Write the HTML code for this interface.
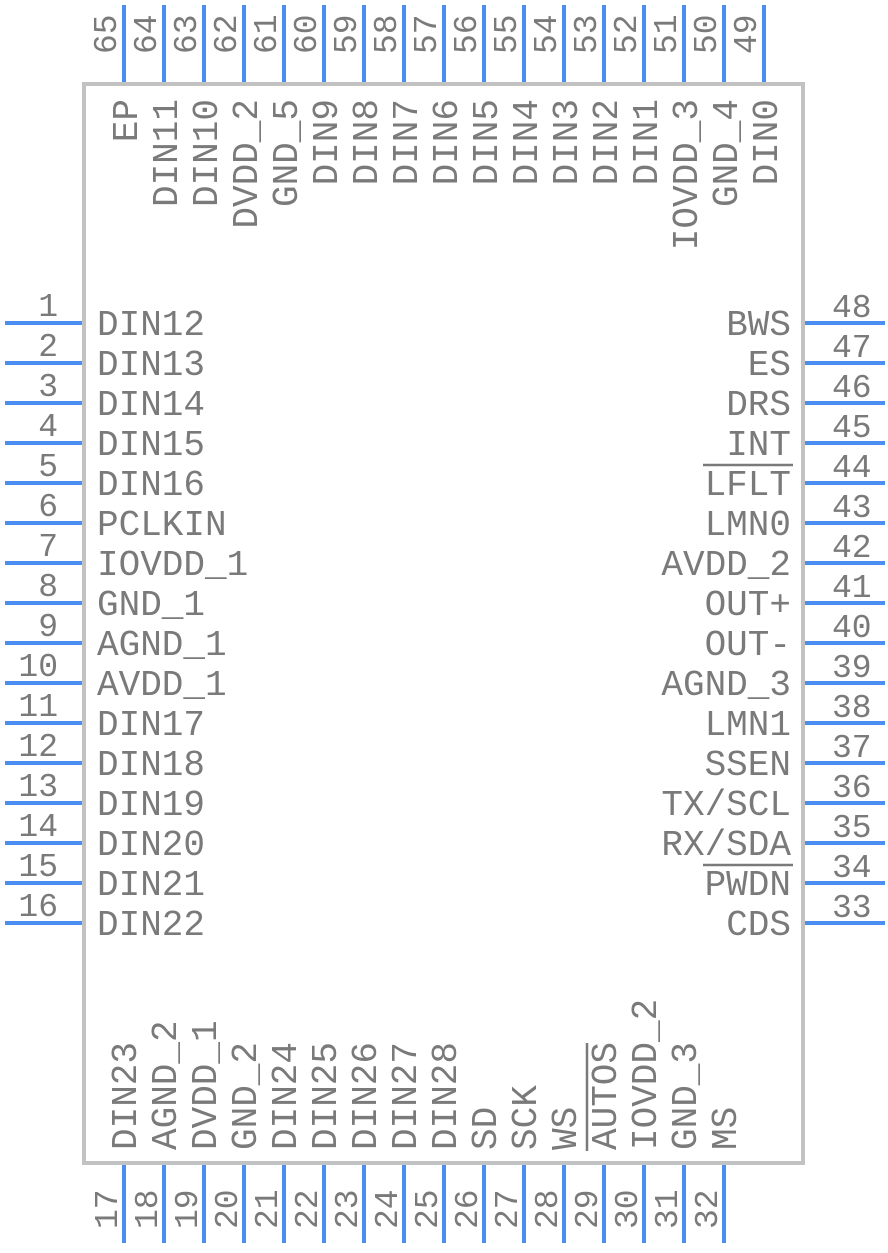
<!DOCTYPE html>
<html><head><meta charset="utf-8"><style>html,body{margin:0;padding:0;background:#fff}</style></head>
<body>
<svg width="888" height="1248" viewBox="0 0 888 1248" xmlns="http://www.w3.org/2000/svg" style="font-family:'Liberation Mono',monospace" fill="#7a7a7a">
<g id="pins" stroke="#4a8ef2" stroke-width="4"></g>
<rect x="84" y="84" width="719" height="1079" fill="none" stroke="#c2c2c2" stroke-width="4"/>
<g id="txt"></g>
</svg>
<script>
var ns="http://www.w3.org/2000/svg",P=document.getElementById('pins'),T=document.getElementById('txt');
function L(x1,y1,x2,y2){var l=document.createElementNS(ns,'line');l.setAttribute('x1',x1);l.setAttribute('y1',y1);l.setAttribute('x2',x2);l.setAttribute('y2',y2);P.appendChild(l);}
function t(s,x,y,sz,anchor,rot){var e=document.createElementNS(ns,'text');e.textContent=s;e.setAttribute('x',x);e.setAttribute('y',y);e.setAttribute('font-size',sz);e.setAttribute('text-anchor',anchor);if(rot)e.setAttribute('transform','rotate(-90 '+x+' '+y+')');T.appendChild(e);return e;}
function bar(x1,y1,x2,y2){var l=document.createElementNS(ns,'line');l.setAttribute('x1',x1);l.setAttribute('y1',y1);l.setAttribute('x2',x2);l.setAttribute('y2',y2);l.setAttribute('stroke','#7a7a7a');l.setAttribute('stroke-width','2.5');T.appendChild(l);}
var leftL=['DIN12','DIN13','DIN14','DIN15','DIN16','PCLKIN','IOVDD_1','GND_1','AGND_1','AVDD_1','DIN17','DIN18','DIN19','DIN20','DIN21','DIN22'];
var rightL=['BWS','ES','DRS','INT','LFLT','LMN0','AVDD_2','OUT+','OUT-','AGND_3','LMN1','SSEN','TX/SCL','RX/SDA','PWDN','CDS'];
var topL=['EP','DIN11','DIN10','DVDD_2','GND_5','DIN9','DIN8','DIN7','DIN6','DIN5','DIN4','DIN3','DIN2','DIN1','IOVDD_3','GND_4','DIN0'];
var botL=['DIN23','AGND_2','DVDD_1','GND_2','DIN24','DIN25','DIN26','DIN27','DIN28','SD','SCK','WS','AUTOS','IOVDD_2','GND_3','MS'];
for(var i=0;i<16;i++){var y=323+40*i;
 L(5,y,84,y);t(String(i+1),58,y-7,33,'end');t(leftL[i],97,y+12,36,'start');
 L(803,y,885,y);t(String(48-i),832,y-6,33,'start');t(rightL[i],791,y+12,36,'end');
}
for(var i=0;i<17;i++){var x=124+40*i;L(x,5,x,84);t(String(65-i),x-8,54,33,'start',1);t(topL[i],x+13,99,36,'end',1);}
for(var i=0;i<16;i++){var x=124+40*i;L(x,1163,x,1243);t(String(17+i),x-7,1229,33,'start',1);t(botL[i],x+12,1150,36,'start',1);}
bar(703,465,793,465);bar(703,865,793,865);bar(587,1043,587,1151);
</script>
</body></html>
